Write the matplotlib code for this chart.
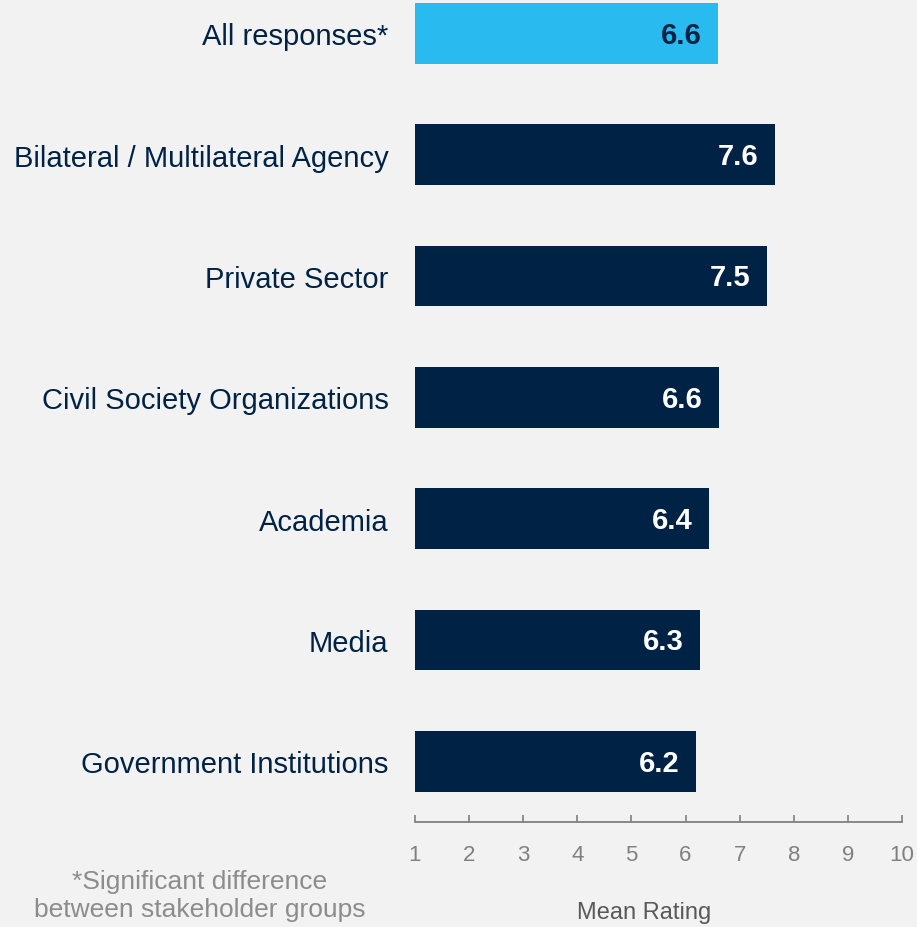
import matplotlib.pyplot as plt

plt.rcParams['font.family'] = ['Liberation Sans', 'DejaVu Sans']

categories = ["All responses*", "Bilateral / Multilateral Agency", "Private Sector",
              "Civil Society Organizations", "Academia", "Media", "Government Institutions"]
values = [6.6, 7.65, 7.5, 6.62, 6.43, 6.27, 6.19]
value_labels = ["6.6", "7.6", "7.5", "6.6", "6.4", "6.3", "6.2"]
highlight = [True, False, False, False, False, False, False]
xticks = list(range(1, 11))

NAVY = "#002244"
LIGHT = "#29bbef"
BG = "#f2f2f2"
W, H = 917, 928

fig = plt.figure(figsize=(W / 100, H / 100), dpi=100, facecolor=BG)
ax = fig.add_axes([415 / W, (H - 823) / H, 487 / W, 823 / H], facecolor=BG)

pos = list(range(len(categories)))
colors = [LIGHT if h else NAVY for h in highlight]
ax.barh(pos, [v - 1 for v in values], left=1, height=0.5, color=colors)

for p, v, lab, h in zip(pos, values, value_labels, highlight):
    ax.annotate(lab, xy=(v, p), xytext=(-12, -1), textcoords="offset points",
                ha="right", va="center", fontsize=21, fontweight="bold",
                color=NAVY if h else "white")

ax.set_xlim(1, 10)
ax.set_ylim(6.5, -0.284)
ax.set_yticks(pos)
ax.set_yticklabels(categories, fontsize=21, color=NAVY)
ax.tick_params(axis="y", length=0, pad=19)
ax.set_xticks(xticks)
ax.set_xticklabels([str(t) for t in xticks], fontsize=16, color="#808080")
ax.tick_params(axis="x", direction="in", length=5, width=1.2, color="#7f7f7f", pad=16)

for s in ["left", "top", "right"]:
    ax.spines[s].set_visible(False)
ax.spines["bottom"].set_color("#7f7f7f")
ax.spines["bottom"].set_linewidth(1.3)

fig.text(644 / W, 1 - 913 / H, "Mean Rating", ha="center", va="center",
         fontsize=17, color="#595959")
fig.text(200 / W, 1 - 896 / H, "*Significant difference\nbetween stakeholder groups",
         ha="center", va="center", fontsize=19, color="#8c8c8c", linespacing=1.22)

fig.savefig("out.png", dpi=100, facecolor=BG)
